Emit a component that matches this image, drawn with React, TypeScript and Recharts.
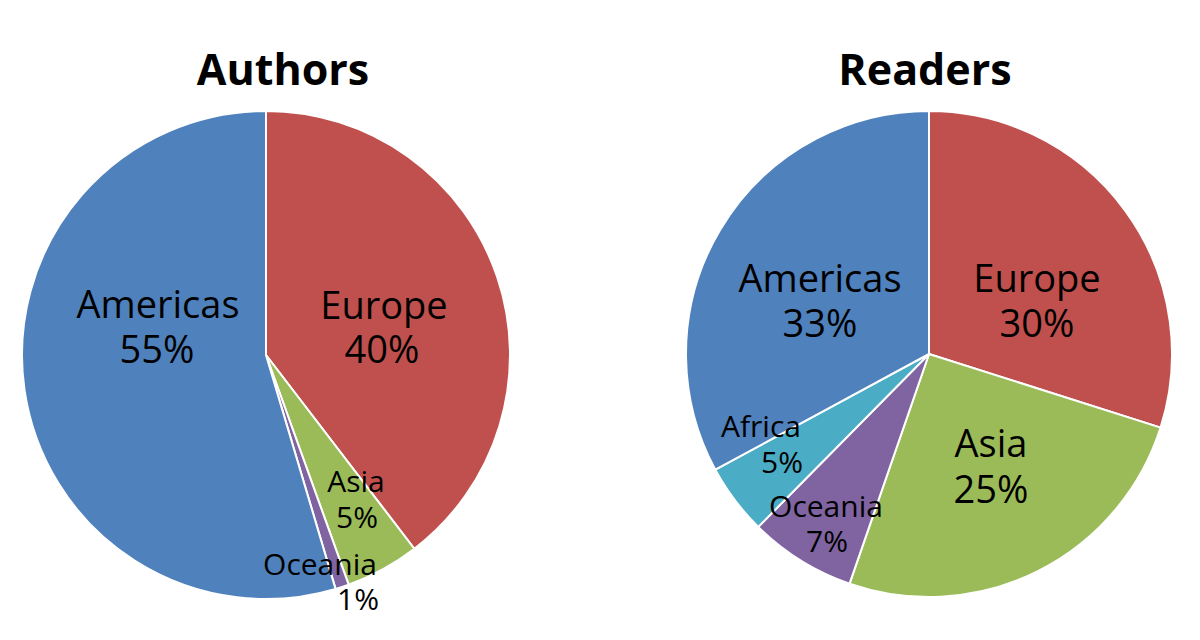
import React from "react";
import { PieChart, Pie, Cell } from "recharts";

// Shares in percent, clockwise from 12 o'clock
const authorRegions = ["Europe", "Asia", "Oceania", "Americas"];
const authorShares = [39.6, 4.9, 0.9, 54.6];

const readerRegions = ["Europe", "Asia", "Oceania", "Africa", "Americas"];
const readerShares = [29.9, 25.4, 7.1, 4.7, 32.9];

const COLORS: Record<string, string> = {
  Americas: "#4F81BD",
  Europe: "#C0504D",
  Asia: "#9BBB59",
  Oceania: "#8064A2",
  Africa: "#4BACC6",
};

const FONT = "'Open Sans', 'Noto Sans', sans-serif";

// label line placement relative to pie centre: [nameDx, nameDy, pctDx, pctDy, fontSize]
const AUTHOR_LABELS: Record<string, number[]> = {
  Americas: [-108, -37, -109, 8, 38],
  Europe: [118, -36, 116, 8, 38],
  Asia: [90, 137, 91, 173, 30],
  Oceania: [54, 220, 92, 255, 30],
};
const READER_LABELS: Record<string, number[]> = {
  Americas: [-109, -62, -109, -17, 38],
  Europe: [108, -62, 108, -17, 38],
  Asia: [62, 103, 62, 149, 38],
  Africa: [-168, 83, -147, 119, 30],
  Oceania: [-103, 163, -102, 198, 30],
};

const authorData = authorRegions.map((name, i) => ({ name, value: authorShares[i] }));
const readerData = readerRegions.map((name, i) => ({ name, value: readerShares[i] }));

const makeLabel = (layout: Record<string, number[]>) => (props: any) => {
  const { cx, cy, name, percent } = props;
  const l = layout[name];
  if (!l) return null;
  const [nx, ny, px, py, fs] = l;
  return (
    <g>
      <text x={cx + nx} y={cy + ny} textAnchor="middle" fontSize={fs} fontFamily={FONT} fill="#000">
        {name}
      </text>
      <text x={cx + px} y={cy + py} textAnchor="middle" fontSize={fs} fontFamily={FONT} fill="#000">
        {Math.round(percent * 100)}%
      </text>
    </g>
  );
};

const titleStyle: React.CSSProperties = {
  position: "absolute",
  top: 40,
  width: 300,
  textAlign: "center",
  fontFamily: FONT,
  fontWeight: 700,
  fontSize: 43,
  lineHeight: "58px",
  color: "#000",
};

export default function App() {
  return (
    <div style={{ position: "absolute", left: 0, top: 0, width: 1200, height: 640, background: "#fff" }}>
      <PieChart width={1200} height={640} margin={{ top: 0, right: 0, bottom: 0, left: 0 }}>
        <Pie
          data={authorData}
          dataKey="value"
          nameKey="name"
          cx={266}
          cy={355}
          outerRadius={244}
          startAngle={90}
          endAngle={-270}
          stroke="#fff"
          strokeWidth={2}
          label={makeLabel(AUTHOR_LABELS)}
          labelLine={false}
          isAnimationActive={false}
        >
          {authorData.map((d) => (
            <Cell key={d.name} fill={COLORS[d.name]} />
          ))}
        </Pie>
        <Pie
          data={readerData}
          dataKey="value"
          nameKey="name"
          cx={929}
          cy={354}
          outerRadius={243}
          startAngle={90}
          endAngle={-270}
          stroke="#fff"
          strokeWidth={2}
          label={makeLabel(READER_LABELS)}
          labelLine={false}
          isAnimationActive={false}
        >
          {readerData.map((d) => (
            <Cell key={d.name} fill={COLORS[d.name]} />
          ))}
        </Pie>
      </PieChart>
      <div style={{ ...titleStyle, left: 283 - 150 }}>Authors</div>
      <div style={{ ...titleStyle, left: 925 - 150 }}>Readers</div>
    </div>
  );
}
